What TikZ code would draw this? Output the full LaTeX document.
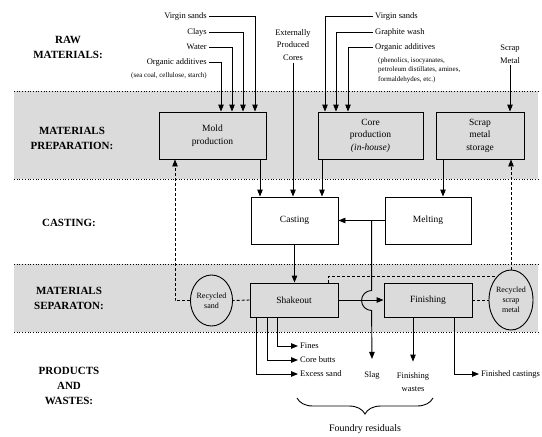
\documentclass[tikz,border=0pt]{standalone}
\usepackage{fontspec}
\setmainfont{Liberation Serif}
\usetikzlibrary{arrows.meta,positioning,calc,shapes.geometric,decorations.pathreplacing}

\tikzset{
  band/.style={fill=black!14, draw=none},
  sepline/.style={dotted, line width=0.7pt},
  lbl/.style={font=\fontsize{11}{15}\selectfont\bfseries, align=center},
  inp/.style={font=\fontsize{8.5}{12.5}\selectfont, inner sep=2pt},
  note/.style={font=\fontsize{7}{9.5}\selectfont, inner sep=1pt},
  box/.style={draw, line width=0.9pt, align=center, font=\fontsize{9.5}{12.5}\selectfont},
  gbox/.style={box, fill=black!14},
  oval/.style={draw, ellipse, line width=0.9pt, align=center, inner sep=0pt,
    font=\fontsize{8}{10}\selectfont, fill=black!14},
  arr/.style={line width=0.9pt, -{Triangle[length=7pt,width=5.5pt]}},
  rec/.style={line width=0.9pt, dash pattern=on 3pt off 2pt},
  recarr/.style={rec, -{Triangle[length=7pt,width=5.5pt]}},
}

\begin{document}
\begin{tikzpicture}[x=1pt,y=-1pt]
    \useasboundingbox (0,0) rectangle (542,437);
    % bands
    \fill[band] (14,91) rectangle (538,179);
    \fill[band] (14,264) rectangle (538,332);
    \foreach \y in {91,179,264,332} \draw[sepline] (14,\y) -- (538,\y);
    % band labels
    \node[lbl] (lraw) at (68,47) {RAW\\MATERIALS:};
    \node[lbl] (lprep) at (72,138) {MATERIALS\\PREPARATION:};
    \node[lbl] (lcast) at (69,223) {CASTING:};
    \node[lbl] (lsep) at (69,298) {MATERIALS\\SEPARATON:};
    \node[lbl] (lprod) at (69,386) {PRODUCTS\\AND\\WASTES:};
    % process boxes
    \node[gbox, minimum width=107pt, minimum height=47pt] (mold) at (212.5,135.5) {Mold\\production};
    \node[gbox, minimum width=105pt, minimum height=47pt] (core) at (370.5,135.5) {Core\\production\\\textit{(in-house)}};
    \node[gbox, minimum width=88pt, minimum height=47pt] (storage) at (480,135.5) {Scrap\\metal\\storage};
    \node[box, fill=white, minimum width=87pt, minimum height=47pt] (casting) at (294.5,220.5) {Casting};
    \node[box, fill=white, minimum width=86pt, minimum height=47pt] (melting) at (428,220.5) {Melting};
    \node[gbox, minimum width=88pt, minimum height=34pt] (shakeout) at (294,300) {Shakeout};
    \node[gbox, minimum width=88pt, minimum height=34pt] (finishing) at (428,300) {Finishing};
    \node[oval, minimum width=41pt, minimum height=51pt] (rsand) at (211.5,300.5) {Recycled\\sand};
    \node[oval, minimum width=44pt, minimum height=60pt] (rscrap) at (511,300) {Recycled\\scrap\\metal};
    % raw materials for molds
    \node[inp, anchor=east] (mvs) at (209,16) {Virgin sands};
    \node[inp, anchor=east] (mcl) at (209,32) {Clays};
    \node[inp, anchor=east] (mwa) at (209,47) {Water};
    \node[inp, anchor=east] (moa) at (209,62) {Organic additives};
    \node[note, anchor=east] (moan) at (208,76) {(sea coal, cellulose, starch)};
    \draw[arr] (mvs.east) -| ([xshift=42.5pt]mold.north);
    \draw[arr] (mcl.east) -| ([xshift=30.5pt]mold.north);
    \draw[arr] (mwa.east) -| ([xshift=19.5pt]mold.north);
    \draw[arr] (moa.east) -| ([xshift=8.5pt]mold.north);
    % raw materials for cores
    \node[inp, anchor=west] (cvs) at (373,16) {Virgin sands};
    \node[inp, anchor=west] (cgw) at (373,32) {Graphite wash};
    \node[inp, anchor=west] (coa) at (373,47) {Organic additives};
    \node[note, anchor=north west, align=left] (coan) at (377,56) {(phenolics, isocyanates,\\petroleum distillates, amines,\\formaldehydes, etc.)};
    \draw[arr] (cvs.west) -| ([xshift=-45.5pt]core.north);
    \draw[arr] (cgw.west) -| ([xshift=-34.5pt]core.north);
    \draw[arr] (coa.west) -| ([xshift=-22.5pt]core.north);
    % external cores and scrap
    \node[inp, align=center] (ext) at (293,45) {Externally\\Produced\\Cores};
    \node[inp, align=center] (scrap) at (510,54) {Scrap\\Metal};
    \draw[arr] (ext.south) -- (ext.south |- casting.north);
    \draw[arr] (scrap.south) -- (scrap.south |- storage.north);
    % preparation to casting
    \draw[arr] ([xshift=47.5pt]mold.south) -- ([xshift=47.5pt]mold.south |- casting.north);
    \draw[arr] ([xshift=-48.5pt]core.south) -- ([xshift=-48.5pt]core.south |- casting.north);
    \draw[arr] ([xshift=-37pt]storage.south) -- ([xshift=-37pt]storage.south |- melting.north);
    \draw[arr] (melting.west) -- (casting.east);
    \draw[arr] (casting.south) -- (casting.south |- shakeout.north);
    \draw[arr] (shakeout.east) -- (finishing.west);
    % slag line with hop
    \coordinate (tap) at ([xshift=-13pt]melting.west);
    \node[inp] (slag) at (372,375) {Slag};
    \draw[arr] (tap) -- ++(0,70) arc[start angle=270, end angle=90, radius=10] -- ([yshift=10pt]slag.north);
    % products and wastes
    \node[inp, anchor=west] (fines) at (298,346) {Fines};
    \node[inp, anchor=west] (cbutts) at (298,360) {Core butts};
    \node[inp, anchor=west] (xsand) at (298,374) {Excess sand};
    \draw[arr] ([xshift=-17pt]shakeout.south) |- (fines.west);
    \draw[arr] ([xshift=-27pt]shakeout.south) |- (cbutts.west);
    \draw[arr] ([xshift=-38pt]shakeout.south) |- (xsand.west);
    \node[inp, align=center] (fwaste) at (413,382) {Finishing\\wastes};
    \draw[arr] ([xshift=-15pt]finishing.south) -- ([xshift=-15pt,yshift=9pt]finishing.south |- fwaste.north);
    \node[inp, anchor=west] (fcast) at (479,374) {Finished castings};
    \draw[arr] ([xshift=26pt]finishing.south) |- (fcast.west);
    % recycling loops
    \draw[recarr] (rsand.west) -| ([xshift=-37.5pt]mold.south);
    \draw[rec] (shakeout.west) -- (rsand.east);
    \draw[recarr] (rscrap.north) -- (rscrap.north |- storage.south);
    \draw[rec] ([xshift=34pt]shakeout.north) |- (rscrap.122);
    \draw[rec] (finishing.east) -- (rscrap.west);
    % residuals brace
    \coordinate (bl) at (297,398);
    \coordinate (br) at (433,398);
    \draw[line width=0.9pt, decorate, decoration={brace, mirror, amplitude=16pt}] (bl) -- (br);
    \node[font=\fontsize{10}{12}\selectfont] (resid) at (365,429) {Foundry residuals};
\end{tikzpicture}
\end{document}
